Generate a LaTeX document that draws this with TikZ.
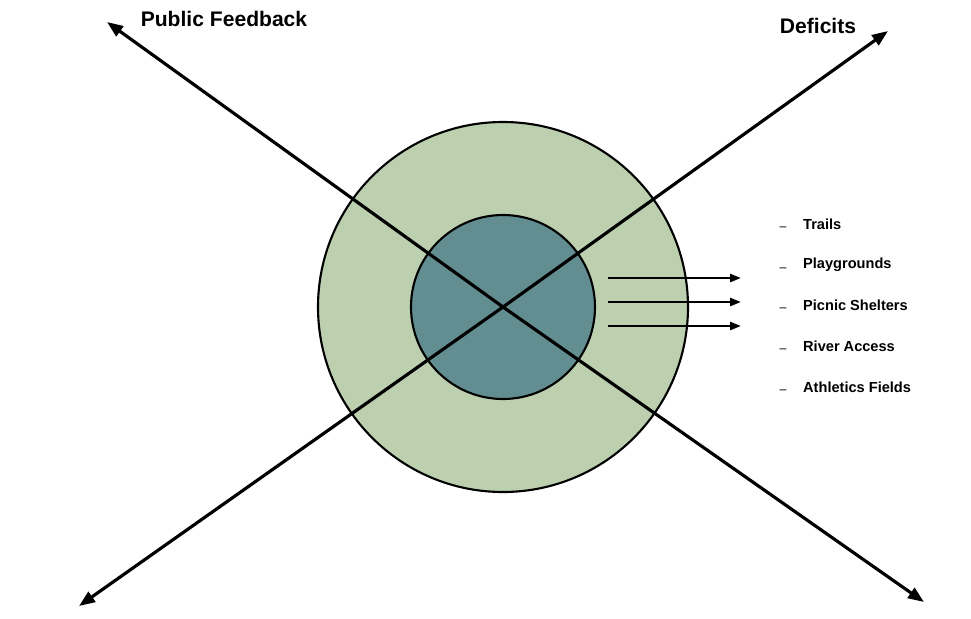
\documentclass[tikz,border=0pt]{standalone}
\usepackage{fontspec}
\setmainfont{Liberation Sans}
\usepackage{xcolor}
\usetikzlibrary{arrows.meta, positioning}

\definecolor{outerring}{HTML}{BCD0B0}
\definecolor{innercore}{HTML}{638E91}

\begin{document}
\begin{tikzpicture}[
    ring/.style={circle, draw=black, line width=1.2pt, inner sep=0pt},
    axis/.style={line width=1.8pt, -{Triangle[length=0.32cm, width=0.24cm]}},
    flow/.style={line width=1.4pt, -{Triangle[length=0.22cm, width=0.16cm]}},
    title/.style={font=\fontsize{12}{14}\selectfont\bfseries},
    item/.style={font=\fontsize{8.3}{10}\selectfont\bfseries, anchor=west},
    dashmark/.style={font=\fontsize{7}{8}\selectfont},
]
\useasboundingbox (0,0) rectangle (19.42,-12.38);

% Circles
\node[ring, fill=outerring, minimum size=7.4cm] (outer) at (10.06,-6.14) {};
\node[ring, fill=innercore, minimum size=3.68cm] (inner) at (10.06,-6.14) {};

% Axis ends
\coordinate (tl) at (2.14,-0.44);
\coordinate (br) at (18.48,-12.04);
\coordinate (bl) at (1.58,-12.12);
\coordinate (tr) at (17.76,-0.62);

\draw[axis] (inner.center) -- (tl);
\draw[axis] (inner.center) -- (br);
\draw[axis] (inner.center) -- (bl);
\draw[axis] (inner.center) -- (tr);

% Titles
\node[title] (feedback) at (4.48,-0.38) {Public Feedback};
\node[title] (deficits) at (16.36,-0.52) {Deficits};

% Small arrows
\foreach \n/\y in {a/-5.56, b/-6.04, c/-6.52} {
  \coordinate (s\n) at (12.16,\y);
  \coordinate (e\n) at (14.82,\y);
  \draw[flow] (s\n) -- (e\n);
}

% Deficit list
\foreach \n/\y/\txt in {one/-4.48/Trails, two/-5.30/Playgrounds, three/-6.10/Picnic Shelters, four/-6.92/River Access, five/-7.74/Athletics Fields} {
  \node[dashmark] (d\n) at (15.66,\y-0.1) {--};
  \node[item] (i\n) at (15.94,\y) {\txt};
}

\end{tikzpicture}
\end{document}
